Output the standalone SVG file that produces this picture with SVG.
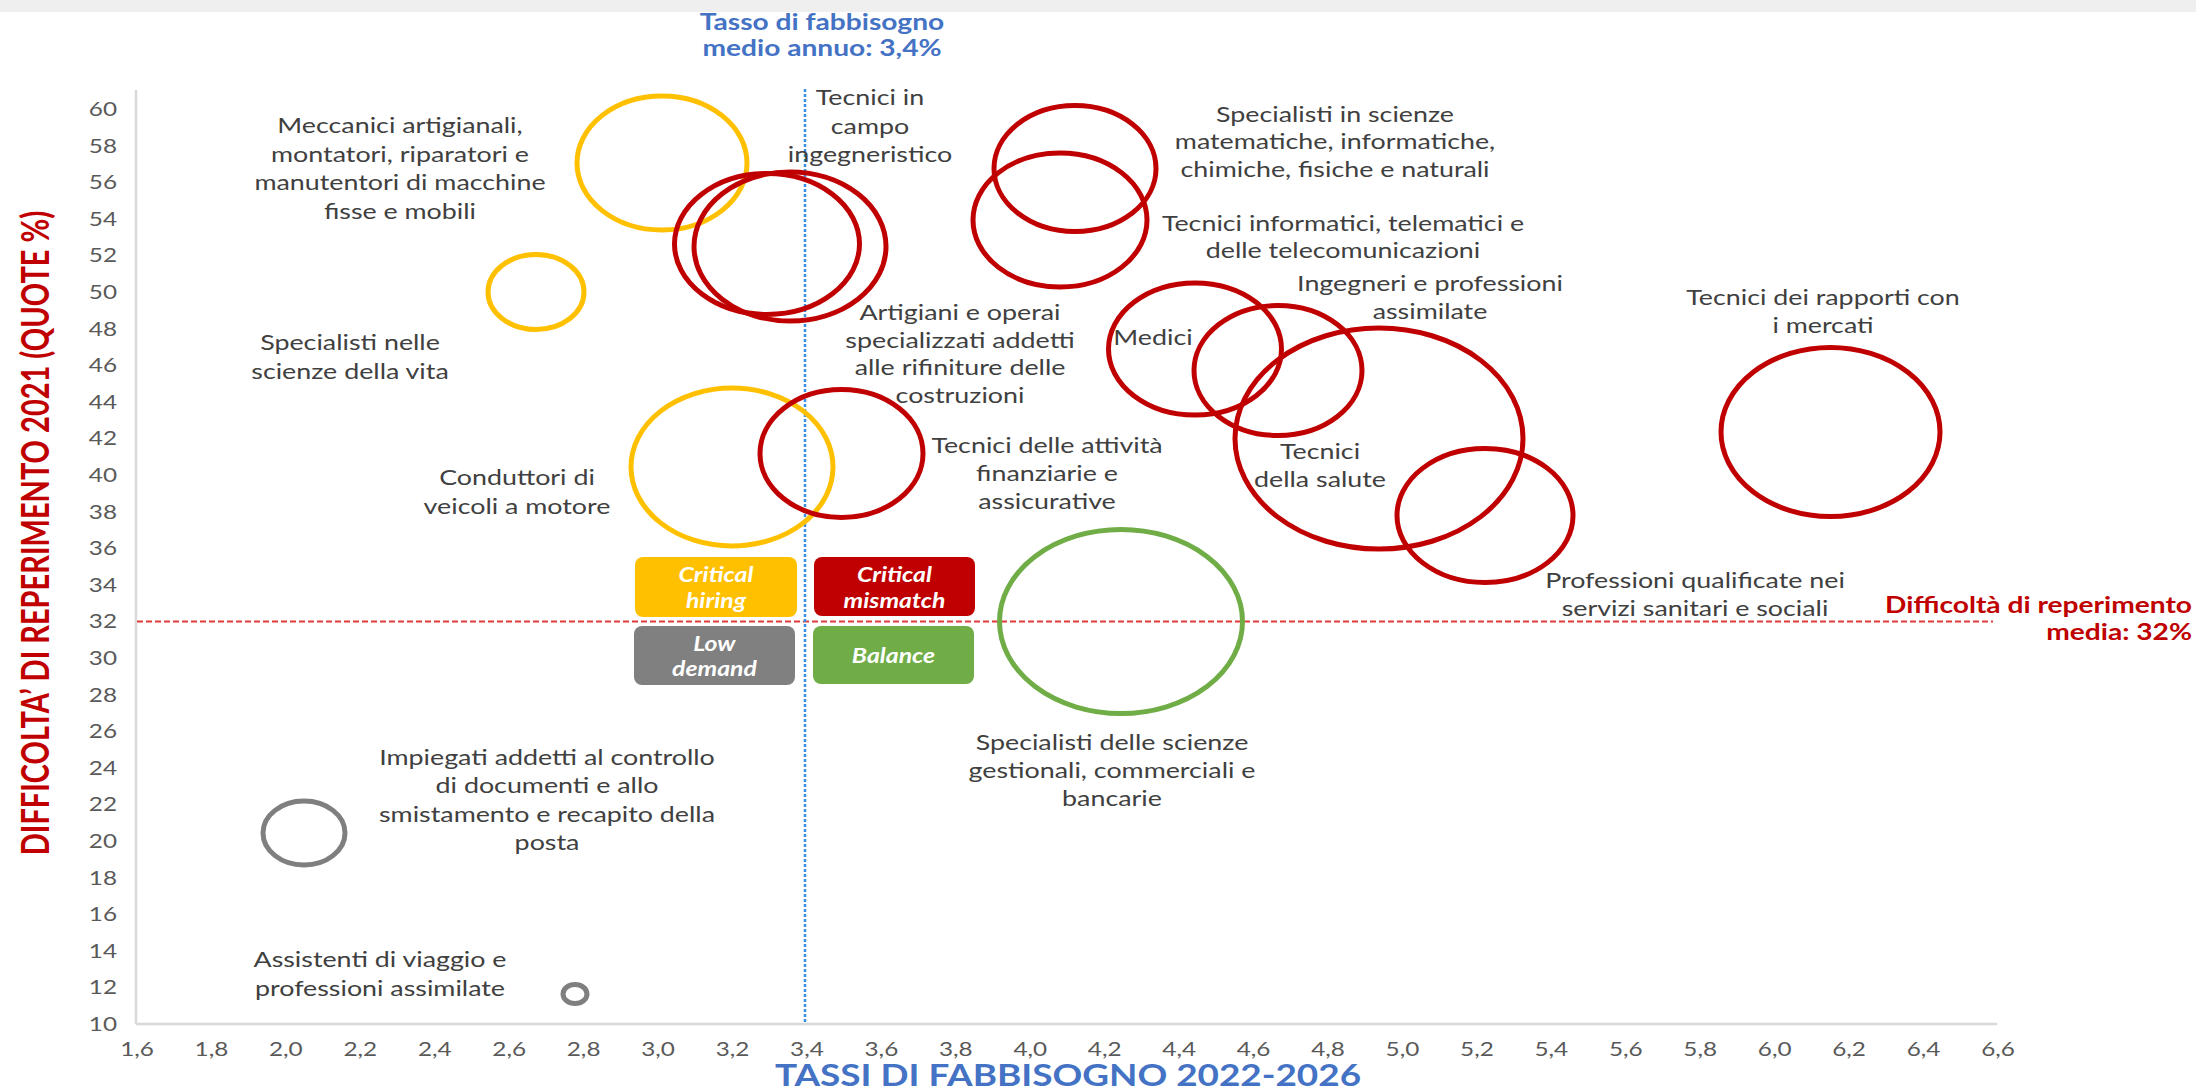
<svg xmlns="http://www.w3.org/2000/svg" width="2196" height="1090" viewBox="0 0 2196 1090">
<style>
.lbl{font-family:Lato,"Liberation Sans",sans-serif;font-size:22px;fill:#404040;text-anchor:middle}
.tick{font-family:Lato,"Liberation Sans",sans-serif;font-size:19px;fill:#595959}
.qb{font-family:Lato,"Liberation Sans",sans-serif;font-size:20px;font-weight:bold;font-style:italic;fill:#ffffff;text-anchor:middle}
.ttl{font-family:Lato,"Liberation Sans",sans-serif;font-weight:bold}
.b{fill:none;stroke-width:5}
.red{stroke:#C00000}
.yel{stroke:#FFC000}
.grn{stroke:#70AD47}
.gry{stroke:#7F7F7F}
</style>
<rect x="0" y="0" width="2196" height="1090" fill="#ffffff"/>
<rect x="0" y="0" width="2196" height="12" fill="#efefef"/>

<g id="axes">
<line x1="136" y1="90" x2="136" y2="1024" stroke="#d9d9d9" stroke-width="2.5"/>
<line x1="136" y1="1024" x2="1997" y2="1024" stroke="#d9d9d9" stroke-width="2.5"/>
<g transform="translate(117,0) scale(1.28,1)" class="tick" text-anchor="end">
<text x="0" y="1031">10</text><text x="0" y="994.4">12</text><text x="0" y="957.8">14</text><text x="0" y="921.2">16</text><text x="0" y="884.6">18</text><text x="0" y="848">20</text><text x="0" y="811.4">22</text><text x="0" y="774.8">24</text><text x="0" y="738.2">26</text><text x="0" y="701.6">28</text><text x="0" y="665">30</text><text x="0" y="628.4">32</text><text x="0" y="591.8">34</text><text x="0" y="555.2">36</text><text x="0" y="518.6">38</text><text x="0" y="482">40</text><text x="0" y="445.4">42</text><text x="0" y="408.8">44</text><text x="0" y="372.2">46</text><text x="0" y="335.6">48</text><text x="0" y="299">50</text><text x="0" y="262.4">52</text><text x="0" y="225.8">54</text><text x="0" y="189.2">56</text><text x="0" y="152.6">58</text><text x="0" y="116">60</text>
</g>
<g transform="scale(1.28,1)" class="tick" text-anchor="middle">
<text x="107.03" y="1056">1,6</text><text x="165.19" y="1056">1,8</text><text x="223.34" y="1056">2,0</text><text x="281.5" y="1056">2,2</text><text x="339.66" y="1056">2,4</text><text x="397.81" y="1056">2,6</text><text x="455.97" y="1056">2,8</text><text x="514.13" y="1056">3,0</text><text x="572.28" y="1056">3,2</text><text x="630.44" y="1056">3,4</text><text x="688.59" y="1056">3,6</text><text x="746.75" y="1056">3,8</text><text x="804.91" y="1056">4,0</text><text x="863.06" y="1056">4,2</text><text x="921.22" y="1056">4,4</text><text x="979.38" y="1056">4,6</text><text x="1037.53" y="1056">4,8</text><text x="1095.69" y="1056">5,0</text><text x="1153.84" y="1056">5,2</text><text x="1212" y="1056">5,4</text><text x="1270.16" y="1056">5,6</text><text x="1328.31" y="1056">5,8</text><text x="1386.47" y="1056">6,0</text><text x="1444.63" y="1056">6,2</text><text x="1502.78" y="1056">6,4</text><text x="1560.94" y="1056">6,6</text>
</g>
<text class="ttl" transform="translate(1068,1086) scale(1.19,1)" text-anchor="middle" font-size="31" fill="#4472C4">TASSI DI FABBISOGNO 2022-2026</text>
<text class="ttl" transform="translate(49,533) scale(1.3,1) rotate(-90)" text-anchor="middle" font-size="29" fill="#C00000">DIFFICOLTA’ DI REPERIMENTO 2021 (QUOTE %)</text>
</g>

<g id="connectors">
<line x1="137" y1="621.5" x2="1993" y2="621.5" stroke="#E03A3A" stroke-width="2" stroke-dasharray="6 3"/>
<line x1="805" y1="89" x2="805" y2="1024" stroke="#3A8FE0" stroke-width="2.5" stroke-dasharray="3 2"/>
</g>

<g id="ref-labels">
<text class="ttl" transform="translate(822,30) scale(1.28,1)" text-anchor="middle" font-size="22" fill="#4472C4"><tspan x="0">Tasso di fabbisogno</tspan><tspan x="0" dy="26">medio annuo: 3,4%</tspan></text>
<text class="ttl" transform="translate(2192,613) scale(1.28,1)" text-anchor="end" font-size="22" fill="#C00000"><tspan x="0">Difficoltà di reperimento</tspan><tspan x="0" dy="27">media: 32%</tspan></text>
</g>

<g id="quadrants">
<g id="q-critical-hiring"><rect x="635" y="557" width="162" height="60" rx="8" fill="#FFC000"/><text class="qb" transform="translate(716,582) scale(1.24,1)"><tspan x="0">Critical</tspan><tspan x="0" dy="26">hiring</tspan></text></g>
<g id="q-critical-mismatch"><rect x="814" y="557" width="161" height="59" rx="8" fill="#C00000"/><text class="qb" transform="translate(894.5,582) scale(1.24,1)"><tspan x="0">Critical</tspan><tspan x="0" dy="26">mismatch</tspan></text></g>
<g id="q-low-demand"><rect x="634" y="626" width="161" height="59" rx="8" fill="#808080"/><text class="qb" transform="translate(714.5,651) scale(1.24,1)"><tspan x="0">Low</tspan><tspan x="0" dy="25">demand</tspan></text></g>
<g id="q-balance"><rect x="813" y="626" width="161" height="58" rx="8" fill="#70AD47"/><text class="qb" transform="translate(893.5,663) scale(1.24,1)">Balance</text></g>
</g>

<g id="bubbles">
<g id="n-meccanici"><ellipse class="b yel" cx="662" cy="163" rx="85" ry="67"/><text class="lbl" transform="translate(400,133) scale(1.22,1)"><tspan x="0">Meccanici artigianali,</tspan><tspan x="0" dy="28.6">montatori, riparatori e</tspan><tspan x="0" dy="28.6">manutentori di macchine</tspan><tspan x="0" dy="28.6">fisse e mobili</tspan></text></g>
<g id="n-scienze-vita"><ellipse class="b yel" cx="536" cy="292" rx="48" ry="37.5"/><text class="lbl" transform="translate(350,350) scale(1.22,1)"><tspan x="0">Specialisti nelle</tspan><tspan x="0" dy="28.6">scienze della vita</tspan></text></g>
<g id="n-conduttori"><ellipse class="b yel" cx="732" cy="467" rx="101" ry="79"/><text class="lbl" transform="translate(517,485) scale(1.22,1)"><tspan x="0">Conduttori di</tspan><tspan x="0" dy="28.6">veicoli a motore</tspan></text></g>
<g id="n-tecnici-ingegneristico"><ellipse class="b red" cx="790" cy="246.5" rx="96" ry="74.5"/><text class="lbl" transform="translate(870,105) scale(1.22,1)"><tspan x="0">Tecnici in</tspan><tspan x="0" dy="28.6">campo</tspan><tspan x="0" dy="28.6">ingegneristico</tspan></text></g>
<g id="n-artigiani"><ellipse class="b red" cx="767" cy="244" rx="92.5" ry="70.5"/><text class="lbl" transform="translate(960,320) scale(1.22,1)"><tspan x="0">Artigiani e operai</tspan><tspan x="0" dy="27.7">specializzati addetti</tspan><tspan x="0" dy="27.7">alle rifiniture delle</tspan><tspan x="0" dy="27.7">costruzioni</tspan></text></g>
<g id="n-finanziarie"><ellipse class="b red" cx="841.5" cy="453.5" rx="81.5" ry="64"/><text class="lbl" transform="translate(1047,453) scale(1.22,1)"><tspan x="0">Tecnici delle attività</tspan><tspan x="0" dy="28">finanziarie e</tspan><tspan x="0" dy="28">assicurative</tspan></text></g>
<g id="n-specialisti-matematiche"><ellipse class="b red" cx="1075" cy="168.5" rx="81" ry="63"/><text class="lbl" transform="translate(1335,122) scale(1.22,1)"><tspan x="0">Specialisti in scienze</tspan><tspan x="0" dy="27.3">matematiche, informatiche,</tspan><tspan x="0" dy="27.3">chimiche, fisiche e naturali</tspan></text></g>
<g id="n-tecnici-informatici"><ellipse class="b red" cx="1060" cy="220" rx="87" ry="67"/><text class="lbl" transform="translate(1343,231) scale(1.22,1)"><tspan x="0">Tecnici informatici, telematici e</tspan><tspan x="0" dy="27.3">delle telecomunicazioni</tspan></text></g>
<g id="n-medici"><ellipse class="b red" cx="1195" cy="349" rx="86.5" ry="66"/><text class="lbl" transform="translate(1153,345) scale(1.22,1)">Medici</text></g>
<g id="n-ingegneri"><ellipse class="b red" cx="1278" cy="370.5" rx="84" ry="65"/><text class="lbl" transform="translate(1430,291) scale(1.22,1)"><tspan x="0">Ingegneri e professioni</tspan><tspan x="0" dy="27.7">assimilate</tspan></text></g>
<g id="n-salute"><ellipse class="b red" cx="1379" cy="438.5" rx="144" ry="110.5"/><text class="lbl" transform="translate(1320,459) scale(1.22,1)"><tspan x="0">Tecnici</tspan><tspan x="0" dy="28">della salute</tspan></text></g>
<g id="n-sanitari-sociali"><ellipse class="b red" cx="1485" cy="515.5" rx="88" ry="67"/><text class="lbl" transform="translate(1695,588) scale(1.22,1)"><tspan x="0">Professioni qualificate nei</tspan><tspan x="0" dy="28">servizi sanitari e sociali</tspan></text></g>
<g id="n-mercati"><ellipse class="b red" cx="1830.5" cy="432" rx="109.5" ry="84.5"/><text class="lbl" transform="translate(1823,305) scale(1.22,1)"><tspan x="0">Tecnici dei rapporti con</tspan><tspan x="0" dy="28">i mercati</tspan></text></g>
<g id="n-gestionali"><ellipse class="b grn" cx="1121" cy="621.5" rx="121.5" ry="92"/><text class="lbl" transform="translate(1112,750) scale(1.22,1)"><tspan x="0">Specialisti delle scienze</tspan><tspan x="0" dy="28">gestionali, commerciali e</tspan><tspan x="0" dy="28">bancarie</tspan></text></g>
<g id="n-impiegati"><ellipse class="b gry" cx="304" cy="833" rx="41" ry="32"/><text class="lbl" transform="translate(547,765) scale(1.22,1)"><tspan x="0">Impiegati addetti al controllo</tspan><tspan x="0" dy="28.4">di documenti e allo</tspan><tspan x="0" dy="28.4">smistamento e recapito della</tspan><tspan x="0" dy="28.4">posta</tspan></text></g>
<g id="n-assistenti"><ellipse class="b gry" cx="575" cy="994" rx="12" ry="9.5"/><text class="lbl" transform="translate(380,967) scale(1.22,1)"><tspan x="0">Assistenti di viaggio e</tspan><tspan x="0" dy="28.6">professioni assimilate</tspan></text></g>
</g>
</svg>
